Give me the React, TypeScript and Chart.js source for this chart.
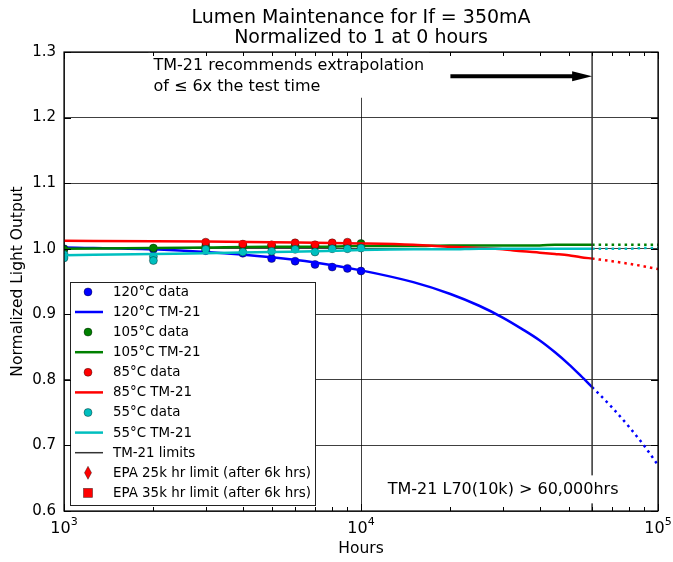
import React, { useEffect, useRef } from 'react';
import { Chart, registerables } from 'chart.js';

Chart.register(...registerables);

const FONT = "'DejaVu Sans', sans-serif";

const titleLines = ['Lumen Maintenance for If = 350mA', 'Normalized to 1 at 0 hours'];
const xAxisLabel = 'Hours';
const yAxisLabel = 'Normalized Light Output';

const yTicks = [0.6, 0.7, 0.8, 0.9, 1.0, 1.1, 1.2, 1.3];
const xMajorTicks = [1000, 10000, 100000];
const xTickExponents = ['3', '4', '5'];
const xMinorTicks = [2000, 3000, 4000, 5000, 6000, 7000, 8000, 9000, 20000, 30000, 40000, 50000, 60000, 70000, 80000, 90000];

// measured data
const hours120 = [1000, 2000, 3000, 4000, 5000, 6000, 7000, 8000, 9000, 10000];
const data120 = [1.0, 0.999, 0.997, 0.993, 0.985, 0.981, 0.976, 0.972, 0.970, 0.966];
const hours105 = [1000, 2000, 3000, 4000, 5000, 6000, 7000, 8000, 9000, 10000];
const data105 = [0.999, 1.001, 1.004, 1.004, 1.004, 1.005, 1.005, 1.005, 1.006, 1.008];
const hours85 = [3000, 4000, 5000, 6000, 7000, 8000, 9000];
const data85 = [1.010, 1.007, 1.006, 1.009, 1.006, 1.009, 1.010];
const hours55 = [1000, 1000, 2000, 2000, 3000, 4000, 5000, 6000, 7000, 8000, 9000, 10000];
const data55 = [0.991, 0.986, 0.988, 0.982, 0.999, 0.995, 0.996, 0.999, 0.995, 1.0, 1.0, 1.001];

// TM-21 fits (within 6x limit)
const fitHours = [1000, 2000, 3000, 5000, 7000, 10000, 15000, 20000, 25000, 30000, 35000, 40000, 45000, 50000, 55000, 60000];
const fit120 = [1.002, 0.999, 0.995, 0.987, 0.979, 0.967, 0.949, 0.931, 0.913, 0.895, 0.877, 0.860, 0.842, 0.824, 0.806, 0.789];
const fit105 = [1.0, 1.001, 1.002, 1.003, 1.003, 1.004, 1.004, 1.005, 1.005, 1.005, 1.005, 1.005, 1.006, 1.006, 1.006, 1.006];
const fit85 = [1.012, 1.0115, 1.011, 1.010, 1.009, 1.008, 1.006, 1.003, 1.001, 0.999, 0.996, 0.994, 0.992, 0.990, 0.987, 0.985];
const fit55 = [0.990, 0.992, 0.993, 0.995, 0.996, 0.998, 0.999, 0.999, 1.0, 1.0, 1.0, 1.0, 1.0, 1.0, 1.0, 1.0];

// extrapolation beyond limit
const extHours = [60000, 70000, 80000, 90000, 100000];
const ext120 = [0.789, 0.758, 0.728, 0.699, 0.670];
const ext105 = [1.006, 1.006, 1.006, 1.006, 1.006];
const ext85 = [0.985, 0.981, 0.977, 0.973, 0.969];
const ext55 = [1.0, 1.0, 1.0, 1.001, 1.001];

const limitHours = [60000, 60000];
const limitValues = [0.6, 1.3];

const arrowHours = [20000, 60000];
const arrowValue = 1.263;

const noteTopLines = ['TM-21 recommends extrapolation', 'of \u2264 6x the test time'];
const noteTopHours = 2000;
const noteTopValues = [1.279, 1.247];
const noteBottom = 'TM-21 L70(10k) > 60,000hrs';
const noteBottomHours = 12300;
const noteBottomValue = 0.633;

const legendLabels = [
  '120\u00b0C data', '120\u00b0C TM-21', '105\u00b0C data', '105\u00b0C TM-21',
  '85\u00b0C data', '85\u00b0C TM-21', '55\u00b0C data', '55\u00b0C TM-21',
  'TM-21 limits', 'EPA 25k hr limit (after 6k hrs)', 'EPA 35k hr limit (after 6k hrs)',
];
const legendKinds = ['dot', 'line', 'dot', 'line', 'dot', 'line', 'dot', 'line', 'line', 'diamond', 'square'];

const BLUE = '#0000ff';
const GREEN = '#008000';
const RED = '#ff0000';
const CYAN = '#00bfbf';
const LIMIT = '#333333';
const legendColors = [BLUE, BLUE, GREEN, GREEN, RED, RED, CYAN, CYAN, LIMIT, RED, RED];

const zip = (xs: number[], ys: number[]) => xs.map((x, i) => ({ x, y: ys[i] }));

function scatterSet(label: string, xs: number[], ys: number[], color: string, order: number) {
  return {
    label, data: zip(xs, ys), showLine: false, order,
    pointRadius: 4, pointHoverRadius: 4,
    backgroundColor: color, borderColor: 'rgba(0,0,0,0.55)', borderWidth: 0.7,
  };
}
function lineSet(label: string, xs: number[], ys: number[], color: string, order: number, dotted = false, width = 2.5) {
  return {
    label, data: zip(xs, ys), showLine: true, order,
    pointRadius: 0, pointHoverRadius: 0, borderColor: color, backgroundColor: color,
    borderWidth: width, borderDash: dotted ? [2.5, 4] : [], cubicInterpolationMode: 'monotone' as const,
    fill: false,
  };
}

const overlay = {
  id: 'overlay',
  afterDatasetsDraw(chart: any) {
    const ctx: CanvasRenderingContext2D = chart.ctx;
    const a = chart.chartArea;
    const xs = chart.scales.x;
    const ys = chart.scales.y;
    ctx.save();
    ctx.fillStyle = '#000';
    ctx.textBaseline = 'middle';

    // top note with white box
    ctx.font = `16px ${FONT}`;
    const tx = xs.getPixelForValue(noteTopHours);
    const ty = noteTopValues.map((v) => ys.getPixelForValue(v));
    const tw = Math.max(...noteTopLines.map((l) => ctx.measureText(l).width));
    ctx.fillStyle = '#fff';
    ctx.fillRect(tx - 5, ty[0] - 13, tw + 10, ty[1] - ty[0] + 24);
    ctx.fillStyle = '#000';
    ctx.textAlign = 'left';
    noteTopLines.forEach((l, i) => ctx.fillText(l, tx, ty[i]));

    // bottom note with white box
    const bx = xs.getPixelForValue(noteBottomHours);
    const by = ys.getPixelForValue(noteBottomValue);
    const bw = ctx.measureText(noteBottom).width;
    ctx.fillStyle = '#fff';
    ctx.fillRect(bx - 5, by - 14, bw + 10, 28);
    ctx.fillStyle = '#000';
    ctx.fillText(noteBottom, bx, by);

    // arrow
    const ax0 = xs.getPixelForValue(arrowHours[0]);
    const ax1 = xs.getPixelForValue(arrowHours[1]);
    const ay = ys.getPixelForValue(arrowValue);
    ctx.strokeStyle = '#000';
    ctx.lineWidth = 4;
    ctx.beginPath();
    ctx.moveTo(ax0, ay);
    ctx.lineTo(ax1 - 16, ay);
    ctx.stroke();
    ctx.beginPath();
    ctx.moveTo(ax1, ay);
    ctx.lineTo(ax1 - 20, ay - 5);
    ctx.lineTo(ax1 - 20, ay + 5);
    ctx.closePath();
    ctx.fill();

    // legend
    const lx = a.left + 6;
    const lb = a.bottom - 6;
    const rowH = 20.1;
    const lh = rowH * legendLabels.length + 2;
    const ly = lb - lh;
    ctx.fillStyle = '#fff';
    ctx.fillRect(lx, ly, 245, lh);
    ctx.strokeStyle = '#222';
    ctx.lineWidth = 1;
    ctx.strokeRect(Math.round(lx) + 0.5, Math.round(ly) + 0.5, 245, Math.round(lh));
    ctx.font = `13.4px ${FONT}`;
    ctx.textAlign = 'left';
    legendLabels.forEach((label, i) => {
      const cy = ly + 10 + i * rowH;
      const cx = lx + 18;
      const col = legendColors[i];
      const kind = legendKinds[i];
      if (kind === 'dot') {
        ctx.beginPath();
        ctx.arc(cx, cy, 4, 0, Math.PI * 2);
        ctx.fillStyle = col;
        ctx.fill();
        ctx.strokeStyle = 'rgba(0,0,0,0.55)';
        ctx.lineWidth = 0.7;
        ctx.stroke();
      } else if (kind === 'line') {
        ctx.beginPath();
        ctx.moveTo(lx + 5, cy);
        ctx.lineTo(lx + 33, cy);
        ctx.strokeStyle = col;
        ctx.lineWidth = label === 'TM-21 limits' ? 1.5 : 2.5;
        ctx.stroke();
      } else if (kind === 'diamond') {
        ctx.beginPath();
        ctx.moveTo(cx, cy - 6.5);
        ctx.lineTo(cx + 3.5, cy);
        ctx.lineTo(cx, cy + 6.5);
        ctx.lineTo(cx - 3.5, cy);
        ctx.closePath();
        ctx.fillStyle = col;
        ctx.fill();
        ctx.strokeStyle = 'rgba(0,0,0,0.55)';
        ctx.lineWidth = 0.7;
        ctx.stroke();
      } else {
        ctx.fillStyle = col;
        ctx.fillRect(cx - 4.5, cy - 4.5, 9, 9);
        ctx.strokeStyle = 'rgba(0,0,0,0.55)';
        ctx.lineWidth = 0.7;
        ctx.strokeRect(cx - 4.5, cy - 4.5, 9, 9);
      }
      ctx.fillStyle = '#000';
      ctx.fillText(label, lx + 43, cy + 0.5);
    });

    // frame
    ctx.strokeStyle = '#000';
    ctx.lineWidth = 1.2;
    ctx.strokeRect(a.left, a.top, a.right - a.left, a.bottom - a.top);
    // ticks
    ctx.lineWidth = 1;
    ctx.beginPath();
    xMajorTicks.forEach((v) => {
      const px = Math.round(xs.getPixelForValue(v)) + 0.5;
      ctx.moveTo(px, a.bottom); ctx.lineTo(px, a.bottom - 7);
      ctx.moveTo(px, a.top); ctx.lineTo(px, a.top + 7);
    });
    xMinorTicks.forEach((v) => {
      const px = Math.round(xs.getPixelForValue(v)) + 0.5;
      ctx.moveTo(px, a.bottom); ctx.lineTo(px, a.bottom - 4);
      ctx.moveTo(px, a.top); ctx.lineTo(px, a.top + 4);
    });
    yTicks.forEach((v) => {
      const py = Math.round(ys.getPixelForValue(v)) + 0.5;
      ctx.moveTo(a.left, py); ctx.lineTo(a.left + 7, py);
      ctx.moveTo(a.right, py); ctx.lineTo(a.right - 7, py);
    });
    ctx.stroke();

    // x tick labels 10^n
    ctx.textBaseline = 'alphabetic';
    ctx.textAlign = 'left';
    xMajorTicks.forEach((v, i) => {
      const px = xs.getPixelForValue(v);
      ctx.font = `16px ${FONT}`;
      const w1 = ctx.measureText('10').width;
      ctx.font = `11px ${FONT}`;
      const w2 = ctx.measureText(xTickExponents[i]).width;
      const start = px - (w1 + w2) / 2;
      ctx.font = `16px ${FONT}`;
      ctx.fillText('10', start, 533);
      ctx.font = `11px ${FONT}`;
      ctx.fillText(xTickExponents[i], start + w1, 525);
    });

    // title
    ctx.textAlign = 'center';
    ctx.font = `19px ${FONT}`;
    const cxm = (a.left + a.right) / 2;
    ctx.fillText(titleLines[0], cxm, 23);
    ctx.fillText(titleLines[1], cxm, 43);

    // axis labels
    ctx.font = `15.5px ${FONT}`;
    ctx.fillText(xAxisLabel, cxm, 553);
    ctx.save();
    ctx.translate(18, (a.top + a.bottom) / 2);
    ctx.rotate(-Math.PI / 2);
    ctx.textBaseline = 'middle';
    ctx.fillText(yAxisLabel, 0, 0);
    ctx.restore();

    ctx.restore();
  },
};

export default function App() {
  const ref = useRef<HTMLCanvasElement | null>(null);
  useEffect(() => {
    if (!ref.current) return;
    const gridColor = 'rgba(0,0,0,0.75)';
    const datasets: any[] = [
      scatterSet('120\u00b0C data', hours120, data120, BLUE, 100),
      lineSet('120\u00b0C TM-21', fitHours, fit120, BLUE, 99),
      lineSet('120\u00b0C ext', extHours, ext120, BLUE, 98, true),
      scatterSet('105\u00b0C data', hours105, data105, GREEN, 97),
      lineSet('105\u00b0C TM-21', fitHours, fit105, GREEN, 96),
      lineSet('105\u00b0C ext', extHours, ext105, GREEN, 95, true),
      scatterSet('85\u00b0C data', hours85, data85, RED, 94),
      lineSet('85\u00b0C TM-21', fitHours, fit85, RED, 93),
      lineSet('85\u00b0C ext', extHours, ext85, RED, 92, true),
      scatterSet('55\u00b0C data', hours55, data55, CYAN, 91),
      lineSet('55\u00b0C TM-21', fitHours, fit55, CYAN, 90),
      lineSet('55\u00b0C ext', extHours, ext55, CYAN, 89, true),
      lineSet('TM-21 limits', limitHours, limitValues, LIMIT, 88, false, 1.5),
    ];
    const chart = new Chart(ref.current, {
      type: 'scatter',
      data: { datasets },
      options: {
        animation: false,
        responsive: false,
        maintainAspectRatio: false,
        events: [],
        layout: { padding: { left: 0, right: 15, top: 52, bottom: 0 } },
        plugins: { legend: { display: false }, tooltip: { enabled: false }, title: { display: false } },
        scales: {
          x: {
            type: 'logarithmic', min: 1000, max: 100000,
            afterBuildTicks: (s: any) => { s.ticks = xMajorTicks.map((v) => ({ value: v })); },
            afterFit: (s: any) => { s.height = 51; },
            ticks: { display: false },
            grid: { color: gridColor, lineWidth: 1, drawTicks: false },
            border: { display: false },
          },
          y: {
            type: 'linear', min: 0.6, max: 1.3,
            afterBuildTicks: (s: any) => { s.ticks = yTicks.map((v) => ({ value: v })); },
            afterFit: (s: any) => { s.width = 64; },
            ticks: {
              callback: (v: any) => Number(v).toFixed(1),
              font: { family: FONT, size: 15 }, color: '#000', padding: 8,
            },
            grid: { color: gridColor, lineWidth: 1, drawTicks: false },
            border: { display: false },
          },
        },
      } as any,
      plugins: [overlay],
    });
    return () => chart.destroy();
  }, []);
  return (
    <div style={{ position: 'absolute', left: 0, top: 0, width: 673, height: 562, background: '#fff' }}>
      <canvas ref={ref} width={673} height={562} style={{ width: 673, height: 562, display: 'block' }} />
    </div>
  );
}
